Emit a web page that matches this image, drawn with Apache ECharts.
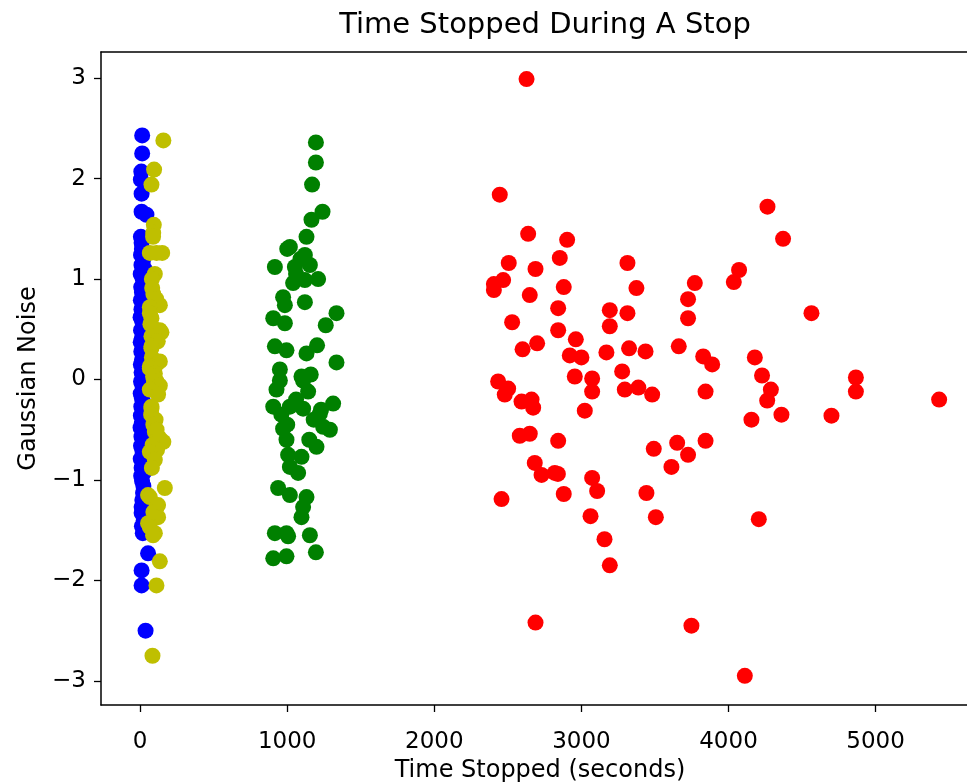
<!DOCTYPE html>
<html>
<head>
<meta charset="utf-8">
<script src="https://cdn.jsdelivr.net/npm/echarts@6/dist/echarts.min.js"></script>
<style>html,body{margin:0;padding:0;background:#fff;overflow:hidden}#c{width:967px;height:782px}</style>
</head>
<body>
<div id="c"></div>
<script>
const titleText = 'Time Stopped During A Stop';
const xName = 'Time Stopped (seconds)';
const yName = 'Gaussian Noise';
const xTicks = [0, 1000, 2000, 3000, 4000, 5000];
const yTicks = [-3, -2, -1, 0, 1, 2, 3];

const bluePoints = [
  [14,2.43],[14,2.25],[8,2.07],[5,1.99],[10,1.85],[10,1.67],[43,1.64],[5,1.42],[10,1.36],
  [12,1.30],[6,1.24],[20,1.19],[9,1.14],[30,1.10],[4,1.05],[16,1.01],[25,0.96],[7,0.92],
  [12,0.87],[35,0.83],[5,0.79],[18,0.75],[9,0.70],[28,0.66],[3,0.62],[14,0.58],[22,0.53],
  [6,0.49],[33,0.45],[11,0.41],[4,0.37],[19,0.32],[8,0.28],[27,0.24],[13,0.20],[5,0.15],
  [36,0.11],[10,0.07],[21,0.03],[6,-0.02],[15,-0.06],[30,-0.10],[4,-0.14],[12,-0.19],
  [24,-0.23],[8,-0.27],[18,-0.31],[5,-0.36],[32,-0.40],[11,-0.44],[3,-0.48],[20,-0.53],
  [9,-0.57],[26,-0.61],[6,-0.66],[14,-0.70],[38,-0.74],[4,-0.79],[17,-0.83],[10,-0.88],
  [29,-0.92],[7,-0.96],[13,-1.01],[22,-1.06],[20,-1.13],[15,-1.20],[10,-1.27],[10,-1.33],
  [25,-1.40],[12,-1.46],[18,-1.53],[54,-1.73],[10,-1.90],[10,-2.05],[37,-2.50]
];

const yellowPoints = [
  [158,2.38],[95,2.09],[77,1.94],[93,1.54],[89,1.46],[88,1.42],[66,1.26],[150,1.26],[112,1.26],
  [100,1.05],[80,1.00],[82,0.91],[90,0.85],[110,0.80],[134,0.74],[66,0.72],[66,0.66],[77,0.61],
  [70,0.55],[100,0.50],[134,0.49],[145,0.47],[77,0.43],[120,0.38],[77,0.33],[77,0.31],[80,0.22],
  [134,0.18],[110,0.15],[66,0.13],[66,0.11],[100,0.06],[88,0.03],[95,-0.02],[112,-0.02],
  [134,-0.06],[66,-0.10],[122,-0.15],[77,-0.27],[77,-0.29],[75,-0.35],[105,-0.40],[90,-0.45],
  [100,-0.52],[112,-0.50],[130,-0.58],[158,-0.62],[85,-0.65],[115,-0.70],[66,-0.72],[100,-0.80],
  [80,-0.88],[168,-1.08],[54,-1.15],[66,-1.17],[122,-1.25],[111,-1.27],[90,-1.32],[122,-1.37],
  [100,-1.37],[54,-1.43],[66,-1.47],[100,-1.53],[88,-1.55],[134,-1.81],[111,-2.05],[84,-2.75]
];

const greenPoints = [
  [1195,2.36],[1195,2.16],[1169,1.94],[1240,1.67],[1165,1.59],[1131,1.42],[1018,1.32],[1000,1.30],
  [916,1.12],[1120,1.24],[1052,1.12],[1154,1.14],[1210,1.00],[1040,0.96],[1120,0.99],[1060,1.05],
  [1090,1.20],[972,0.82],[984,0.74],[1120,0.77],[1335,0.66],[1262,0.54],[905,0.61],[984,0.56],
  [916,0.33],[995,0.29],[1131,0.26],[1203,0.34],[1335,0.17],[950,0.10],[1097,0.03],[950,-0.01],
  [1108,-0.01],[1160,0.05],[927,-0.10],[1142,-0.12],[905,-0.27],[1018,-0.27],[1108,-0.29],
  [1060,-0.20],[1312,-0.24],[1230,-0.30],[1222,-0.34],[1180,-0.40],[960,-0.35],[1000,-0.45],
  [1244,-0.47],[1290,-0.50],[972,-0.49],[995,-0.60],[1150,-0.60],[1199,-0.67],[1006,-0.75],
  [1097,-0.77],[1018,-0.87],[1074,-0.93],[938,-1.08],[1018,-1.15],[1131,-1.17],[1108,-1.27],
  [1097,-1.37],[916,-1.53],[995,-1.53],[1006,-1.56],[1154,-1.55],[905,-1.78],[995,-1.76],[1195,-1.72]
];

const redPoints = [
  [2627,2.99],[2445,1.84],[2638,1.45],[2903,1.39],[2506,1.16],[2853,1.21],[3313,1.16],[2688,1.10],
  [2468,0.99],[2405,0.95],[2405,0.89],[3771,0.96],[2880,0.92],[3374,0.91],[2649,0.84],[3725,0.80],
  [2842,0.71],[3193,0.69],[3313,0.66],[3193,0.53],[3725,0.61],[2529,0.57],[2842,0.49],[2962,0.40],
  [2600,0.30],[2699,0.36],[2921,0.24],[3000,0.22],[3170,0.27],[3324,0.31],[3436,0.28],[3662,0.33],
  [3828,0.23],[3889,0.15],[2955,0.03],[3073,0.01],[3277,0.08],[2434,-0.02],[2502,-0.09],[2479,-0.15],
  [3073,-0.12],[3295,-0.10],[3387,-0.08],[3481,-0.15],[3844,-0.12],[2593,-0.22],[2661,-0.20],
  [2672,-0.28],[3023,-0.31],[2581,-0.56],[2649,-0.54],[2842,-0.61],[3492,-0.69],[3651,-0.63],
  [3725,-0.75],[3844,-0.61],[3612,-0.87],[2683,-0.83],[2729,-0.95],[2819,-0.93],[2840,-0.94],
  [2880,-1.14],[3073,-0.98],[3107,-1.11],[3442,-1.13],[2457,-1.19],[3062,-1.36],[3506,-1.37],
  [3157,-1.59],[3193,-1.85],[2688,-2.42],[3748,-2.45],[4265,1.72],[4371,1.40],[4072,1.09],
  [4036,0.97],[4564,0.66],[4179,0.22],[4228,0.04],[4288,-0.10],[4263,-0.21],[4866,0.02],
  [4866,-0.12],[5432,-0.20],[4156,-0.40],[4360,-0.35],[4700,-0.36],[4206,-1.39],[4111,-2.95]
];

const FONT = 'DejaVu Sans';
const chart = echarts.init(document.getElementById('c'), null, {renderer: 'canvas'});
const minus = v => (v < 0 ? '\u2212' + Math.abs(v) : String(v));
function mk(name, data, color) {
  return {
    name, type: 'scatter', data, symbol: 'circle', symbolSize: 16,
    itemStyle: {color, opacity: 1}, emphasis: {disabled: true}, silent: true
  };
}
const X_MIN = -266, X_MAX = 5703, Y_MIN = -3.24, Y_MAX = 3.26;
chart.setOption({
  animation: false,
  backgroundColor: '#fff',
  title: {
    text: titleText, left: 540, top: 6, textAlign: 'center',
    textStyle: {fontFamily: FONT, fontSize: 29, fontWeight: 'normal', color: '#000'}
  },
  grid: {left: 101, top: 52, width: 878, height: 653, show: false,
         containLabel: false, outerBoundsMode: 'none'},
  xAxis: [{
    type: 'value', min: X_MIN, max: X_MAX, position: 'bottom',
    name: xName, nameLocation: 'middle', nameGap: 50,
    nameTextStyle: {fontFamily: FONT, fontSize: 24, color: '#000'},
    axisLine: {show: true, onZero: false, lineStyle: {color: '#000', width: 1.5}},
    axisTick: {show: true, length: 7, customValues: xTicks, lineStyle: {color: '#000', width: 1.3}},
    axisLabel: {customValues: xTicks, margin: 26, fontFamily: FONT, fontSize: 23, color: '#000', formatter: v => String(v)},
    splitLine: {show: false}
  }, {
    type: 'value', min: X_MIN, max: X_MAX, position: 'top',
    axisLine: {show: true, onZero: false, lineStyle: {color: '#000', width: 1.5}},
    axisTick: {show: false}, axisLabel: {show: false}, splitLine: {show: false}
  }],
  yAxis: {
    type: 'value', min: Y_MIN, max: Y_MAX, position: 'left',
    name: yName, nameLocation: 'middle', nameGap: 60, nameRotate: 90,
    nameTextStyle: {fontFamily: FONT, fontSize: 24, color: '#000'},
    axisLine: {show: true, onZero: false, lineStyle: {color: '#000', width: 1.5}},
    axisTick: {show: true, length: 7, customValues: yTicks, lineStyle: {color: '#000', width: 1.3}},
    axisLabel: {customValues: yTicks, margin: 15, fontFamily: FONT, fontSize: 23, color: '#000', formatter: minus},
    splitLine: {show: false}
  },
  series: [
    mk('blue', bluePoints, '#0000ff'),
    mk('yellow', yellowPoints, '#bfbf00'),
    mk('green', greenPoints, '#008000'),
    mk('red', redPoints, '#ff0000')
  ]
});
</script>
</body>
</html>
